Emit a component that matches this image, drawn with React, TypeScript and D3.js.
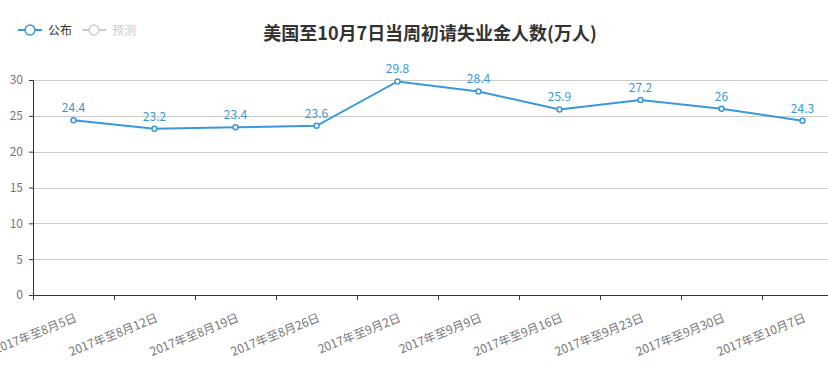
import React, { useEffect, useRef } from "react";
import * as d3 from "d3";

const categories = [
  "2017年至8月5日",
  "2017年至8月12日",
  "2017年至8月19日",
  "2017年至8月26日",
  "2017年至9月2日",
  "2017年至9月9日",
  "2017年至9月16日",
  "2017年至9月23日",
  "2017年至9月30日",
  "2017年至10月7日",
];
const published = [24.4, 23.2, 23.4, 23.6, 29.8, 28.4, 25.9, 27.2, 26, 24.3];
const yTicks = [0, 5, 10, 15, 20, 25, 30];
const legendNames = ["公布", "预测"];

const FONT = "'Noto Sans CJK SC', 'Noto Sans', sans-serif";
const BLUE = "#3a98dc";

export default function App() {
  const ref = useRef<SVGSVGElement | null>(null);

  useEffect(() => {
    const width = 828;
    const height = 374;
    const margin = { left: 33, top: 80, bottom: 79, right: -15 };
    const innerWidth = width - margin.left - margin.right;
    const innerHeight = height - margin.top - margin.bottom;

    const svg = d3.select(ref.current);
    svg.selectAll("*").remove();

    const x = d3.scaleBand().domain(categories).range([0, innerWidth]);
    const y = d3.scaleLinear().domain([0, 30]).range([innerHeight, 0]);

    // title
    svg
      .append("text")
      .attr("x", 430)
      .attr("y", 40)
      .attr("text-anchor", "middle")
      .style("font-family", FONT)
      .style("font-size", "18px")
      .style("font-weight", "bold")
      .attr("fill", "#333")
      .text("美国至10月7日当周初请失业金人数(万人)");

    // legend
    const legendColors = [BLUE, "#ccc"];
    const legendTextColors = ["#333", "#ccc"];
    legendNames.forEach((name, i) => {
      const lx = 18 + i * 64;
      const lg = svg.append("g").attr("transform", `translate(${lx},30)`);
      lg.append("line")
        .attr("x1", 0)
        .attr("x2", 24)
        .attr("stroke", legendColors[i])
        .attr("stroke-width", 2);
      lg.append("circle")
        .attr("cx", 12)
        .attr("r", 5)
        .attr("fill", "#fff")
        .attr("stroke", legendColors[i])
        .attr("stroke-width", 1.5);
      lg.append("text")
        .attr("x", 30)
        .attr("y", 4.5)
        .style("font-family", FONT)
        .style("font-size", "12px")
        .attr("fill", legendTextColors[i])
        .text(name);
    });

    const g = svg
      .append("g")
      .attr("transform", `translate(${margin.left},${margin.top})`);

    // grid
    g.append("g")
      .selectAll("line")
      .data(yTicks.filter((d) => d > 0))
      .enter()
      .append("line")
      .attr("x1", 0)
      .attr("x2", innerWidth)
      .attr("y1", (d) => Math.round(y(d)) + 0.5)
      .attr("y2", (d) => Math.round(y(d)) + 0.5)
      .attr("stroke", "#ccc");

    // y axis
    const yAxisG = g
      .append("g")
      .call(d3.axisLeft(y).tickValues(yTicks).tickSize(4).tickPadding(6));
    yAxisG.selectAll(".domain, .tick line").attr("stroke", "#333");
    yAxisG
      .selectAll("text")
      .attr("fill", "#777")
      .style("font-family", FONT)
      .style("font-size", "12px");

    // x axis
    const xAxisG = g
      .append("g")
      .attr("transform", `translate(0,${innerHeight})`)
      .call(d3.axisBottom(x).tickSize(0).tickFormat(() => ""));
    xAxisG.select(".domain").attr("stroke", "#333");
    xAxisG.selectAll(".tick").remove();

    const edges = d3.range(categories.length + 1).map((i) => i * x.bandwidth());
    xAxisG
      .selectAll("line.edge")
      .data(edges)
      .enter()
      .append("line")
      .attr("class", "edge")
      .attr("x1", (d) => Math.round(d) + 0.5)
      .attr("x2", (d) => Math.round(d) + 0.5)
      .attr("y1", 0)
      .attr("y2", 5)
      .attr("stroke", "#333");

    xAxisG
      .selectAll("text.lab")
      .data(categories)
      .enter()
      .append("text")
      .attr("class", "lab")
      .attr("text-anchor", "end")
      .attr(
        "transform",
        (d) => `translate(${(x(d) as number) + x.bandwidth() / 2 + 1},18) rotate(-22)`
      )
      .attr("dy", "0.71em")
      .attr("fill", "#777")
      .style("font-family", FONT)
      .style("font-size", "12px")
      .text((d) => d);

    // line
    const line = d3
      .line<number>()
      .x((_, i) => (x(categories[i]) as number) + x.bandwidth() / 2)
      .y((d) => y(d));

    g.append("path")
      .datum(published)
      .attr("fill", "none")
      .attr("stroke", BLUE)
      .attr("stroke-width", 2)
      .attr("d", line);

    g.selectAll("circle.pt")
      .data(published)
      .enter()
      .append("circle")
      .attr("class", "pt")
      .attr("cx", (_, i) => (x(categories[i]) as number) + x.bandwidth() / 2)
      .attr("cy", (d) => y(d))
      .attr("r", 2.5)
      .attr("fill", "#fff")
      .attr("stroke", BLUE)
      .attr("stroke-width", 1.5);

    g.selectAll("text.val")
      .data(published)
      .enter()
      .append("text")
      .attr("class", "val")
      .attr("text-anchor", "middle")
      .attr("x", (_, i) => (x(categories[i]) as number) + x.bandwidth() / 2)
      .attr("y", (d) => y(d) - 8)
      .attr("fill", BLUE)
      .style("font-family", FONT)
      .style("font-size", "12px")
      .text((d) => String(d));
  }, []);

  return (
    <svg
      ref={ref}
      width={828}
      height={374}
      style={{ position: "absolute", left: 0, top: 0, background: "#fff" }}
    />
  );
}
